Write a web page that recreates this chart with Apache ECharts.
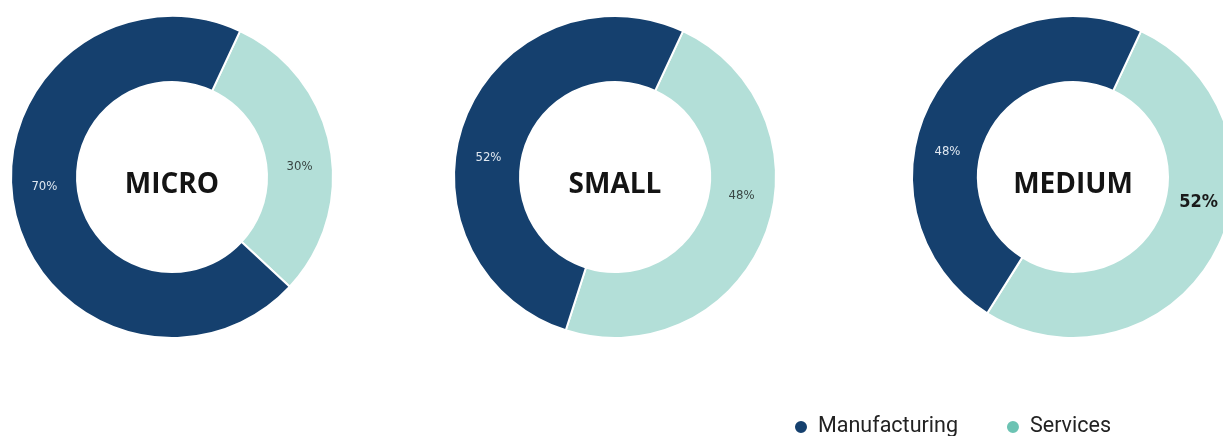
<!DOCTYPE html>
<html>
<head>
<meta charset="utf-8">
<script src="https://cdn.jsdelivr.net/npm/echarts@6/dist/echarts.min.js"></script>
<style>
  html, body { margin: 0; padding: 0; background: #ffffff; }
  #chart { width: 1223px; height: 436px; }
</style>
</head>
<body>
<div id="chart"></div>
<script>
// Firm size groups and the split of firms between sectors (percent)
const sizeGroups = ['MICRO', 'SMALL', 'MEDIUM'];
const sectorNames = ['Manufacturing', 'Services'];
const manufacturingShare = [70, 52, 48];
const servicesShare = [30, 48, 52];

// Layout of the three rings (pixels)
const ringCenters = [[172, 177], [615, 177], [1073, 177]];
const innerR = 95;
const outerR = 161;

const COLOR_MANUF = '#15406e';
const COLOR_SERV = '#b3dfd8';
const LEGEND_SERV = '#6cc3b3';
const NARROW_FONT = "'Liberation Sans Narrow', 'DejaVu Sans Condensed', 'Roboto', sans-serif";

const chart = echarts.init(document.getElementById('chart'), null, { renderer: 'canvas' });

// Keep each value label on the middle of the ring, but pulled toward the horizontal
function ringLabelLayout(idx) {
  const [cx, cy] = ringCenters[idx];
  const midR = (innerR + outerR) / 2;
  return function (params) {
    const r = params.labelRect;
    const lx = r.x + r.width / 2;
    const ly = r.y + r.height / 2;
    const dy = (ly - cy) * 0.4;
    const dx = Math.sign(lx - cx) * Math.sqrt(Math.max(midR * midR - dy * dy, 0));
    return { x: cx + dx, y: cy + dy, align: 'center', verticalAlign: 'middle' };
  };
}

const series = sizeGroups.map((group, i) => ({
  type: 'pie',
  name: group,
  center: ringCenters[i],
  radius: [innerR, outerR],
  startAngle: 65,
  clockwise: true,
  avoidLabelOverlap: false,
  emphasis: { disabled: true },
  itemStyle: { borderColor: '#ffffff', borderWidth: 2 },
  label: {
    show: true,
    position: 'inside',
    formatter: '{c}%',
    fontFamily: NARROW_FONT,
    fontSize: 13
  },
  labelLine: { show: false },
  labelLayout: ringLabelLayout(i),
  data: [
    {
      name: sectorNames[1],
      value: servicesShare[i],
      itemStyle: { color: COLOR_SERV },
      label: i === 2
        ? { color: '#1a1a1a', fontSize: 18, fontWeight: 'bold' }
        : { color: '#3a4644' }
    },
    {
      name: sectorNames[0],
      value: manufacturingShare[i],
      itemStyle: { color: COLOR_MANUF },
      label: { color: '#dfe7f0' }
    }
  ]
}));

const option = {
  animation: false,
  backgroundColor: '#ffffff',
  legend: {
    left: 793,
    top: 416,
    orient: 'horizontal',
    icon: 'circle',
    itemWidth: 14,
    itemHeight: 14,
    itemGap: 47,
    padding: 0,
    selectedMode: false,
    textStyle: {
      fontFamily: 'Roboto',
      fontSize: 21.5,
      color: '#222222',
      padding: [0, 0, 0, 5]
    },
    data: [
      { name: sectorNames[0], itemStyle: { color: COLOR_MANUF } },
      { name: sectorNames[1], itemStyle: { color: LEGEND_SERV } }
    ]
  },
  graphic: sizeGroups.map((group, i) => ({
    type: 'text',
    x: ringCenters[i][0],
    y: ringCenters[i][1] + 8,
    silent: true,
    style: {
      text: group,
      textAlign: 'center',
      textVerticalAlign: 'middle',
      fontFamily: 'Open Sans',
      fontWeight: 'bold',
      fontSize: 28,
      fill: '#141414'
    }
  })),
  series: series
};

chart.setOption(option);
</script>
</body>
</html>
